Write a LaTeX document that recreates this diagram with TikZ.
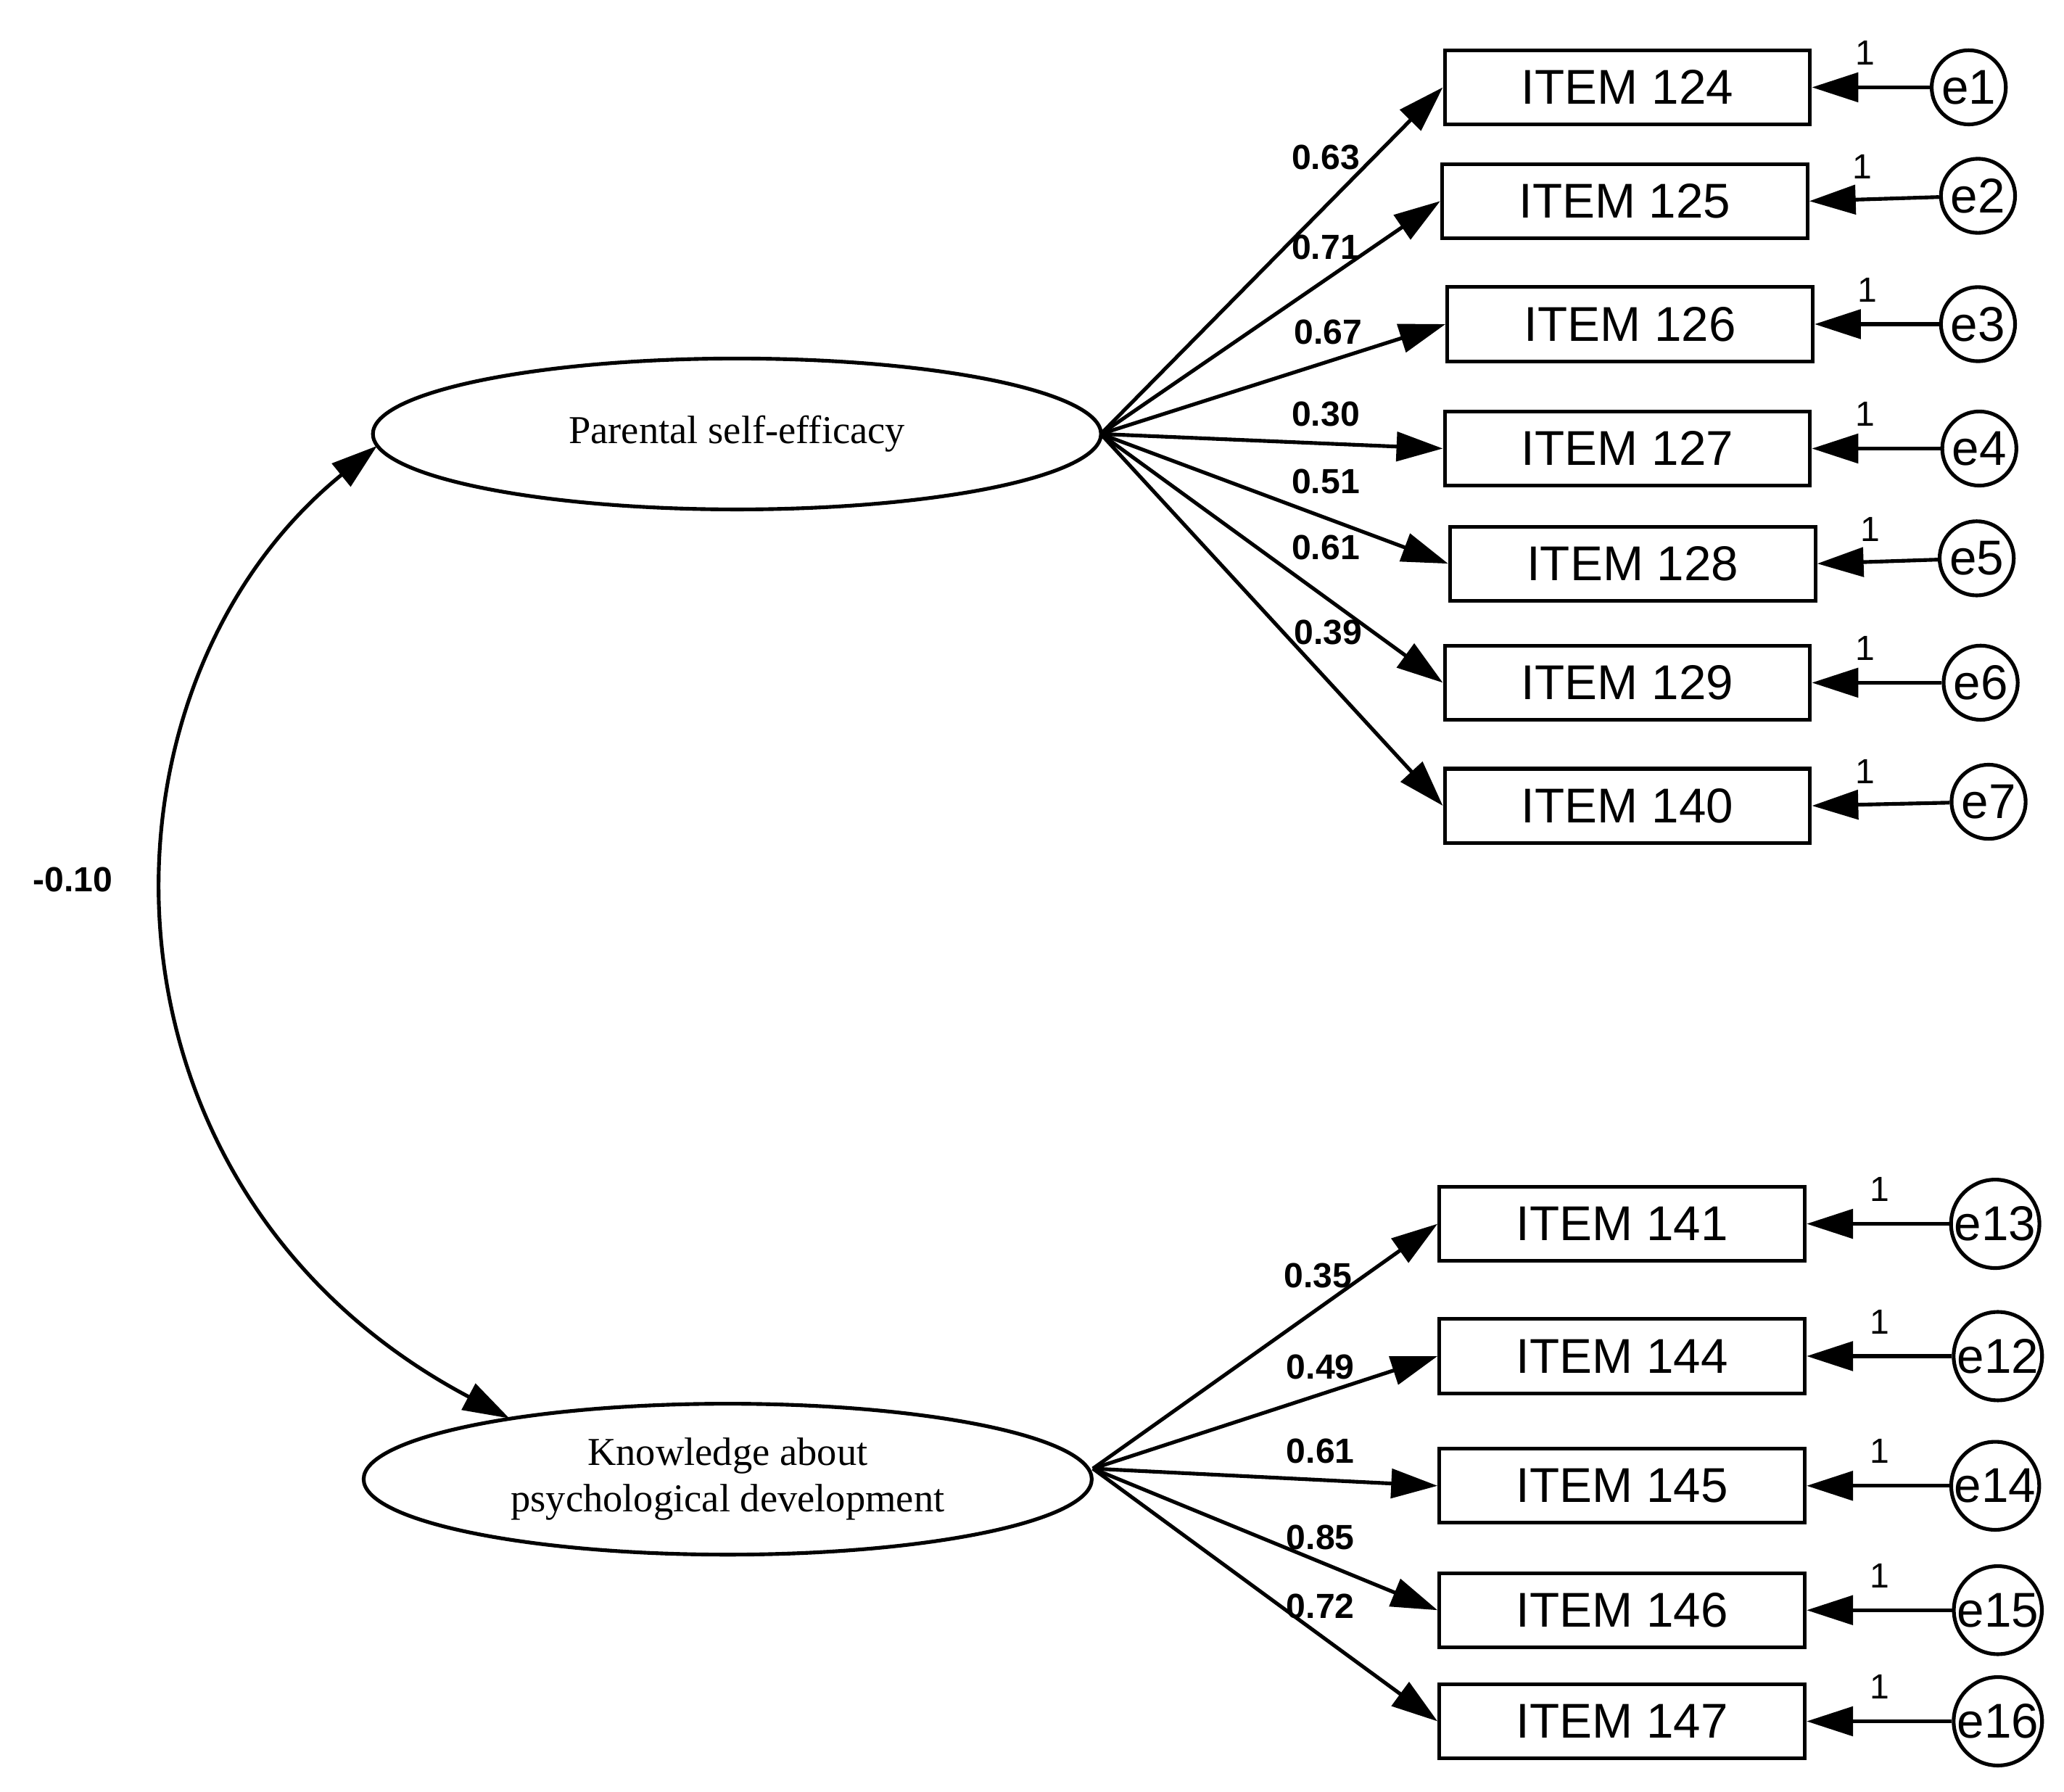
\documentclass[tikz,border=0pt]{standalone}
\usepackage{fontspec}
\setmainfont{Liberation Serif}
\newfontfamily\arial{Liberation Sans}
\usetikzlibrary{arrows.meta,shapes.geometric,calc}
\begin{document}
\begin{tikzpicture}[x=0.01cm,y=-0.01cm,
 lv/.style={ellipse,draw,line width=0.8pt,inner sep=0pt,font=\fontsize{8.5}{10}\selectfont,align=center},
 it/.style={draw,line width=0.8pt,minimum width=2.76cm,minimum height=0.56cm,inner sep=0pt,font=\arial\fontsize{10.5}{12}\selectfont},
 er/.style={circle,draw,line width=0.8pt,minimum size=0.56cm,inner sep=0pt,font=\arial\fontsize{10.5}{12}\selectfont},
 ar/.style={line width=0.8pt,-{Triangle[length=0.35cm,width=0.22cm]}},
 ld/.style={font=\arial\bfseries\fontsize{7.5}{9}\selectfont,inner sep=0pt},
 one/.style={font=\arial\fontsize{7.5}{9}\selectfont,inner sep=0pt}]
\useasboundingbox (0,0) rectangle (1560,1354);
\node[lv,minimum width=5.5cm,minimum height=1.14cm] (f1) at (557,328) {Parental self-efficacy};
\node[lv,minimum width=5.5cm,minimum height=1.14cm] (f2) at (550,1118) {Knowledge about\\psychological development};
\coordinate (o1) at (832,328);
\coordinate (o2) at (826,1110);
\foreach \n/\x/\y/\e/\ex/\ey/\l/\lx/\ly in {
 124/1230/66/e1/1488/66/0.63/1002/119,
 125/1228/152/e2/1495/148/0.71/1002/187,
 126/1232/245/e3/1495/245/0.67/1004/251,
 127/1230/339/e4/1496/339/0.30/1002/313,
 128/1234/426/e5/1494/422/0.51/1002/364,
 129/1230/516/e6/1497/516/0.61/1002/414,
 140/1230/609/e7/1503/606/0.39/1004/478}{
 \node[it] (i\n) at (\x,\y) {ITEM \n};
 \node[er] (\e) at (\ex,\ey) {\e};
 \draw[ar] (o1) -- (i\n.west);
 \draw[ar] (\e) -- (i\n.east);
 \node[one] at ($(i\n.east)+(40,-26)$) {1};
 \node[ld] at (\lx,\ly) {\l};
}
\foreach \n/\x/\y/\e/\ex/\ey/\l/\lx/\ly in {
 141/1226/925/e13/1508/925/0.35/996/964,
 144/1226/1025/e12/1510/1025/0.49/998/1033,
 145/1226/1123/e14/1508/1123/0.61/998/1097,
 146/1226/1217/e15/1510/1217/0.85/998/1162,
 147/1226/1301/e16/1510/1301/0.72/998/1214}{
 \node[it] (i\n) at (\x,\y) {ITEM \n};
 \node[er] (\e) at (\ex,\ey) {\e};
 \draw[ar] (o2) -- (i\n.west);
 \draw[ar] (\e) -- (i\n.east);
 \node[one] at ($(i\n.east)+(55,-26)$) {1};
 \node[ld] at (\lx,\ly) {\l};
}
\coordinate (c1) at (285,337);
\coordinate (c2) at (385,1072);
\draw[line width=0.8pt,{Triangle[length=0.35cm,width=0.22cm]}-{Triangle[length=0.35cm,width=0.22cm]}] (c1) .. controls (60,520) and (60,900) .. (c2);
\node[ld] at (55,665) {-0.10};
\end{tikzpicture}
\end{document}
